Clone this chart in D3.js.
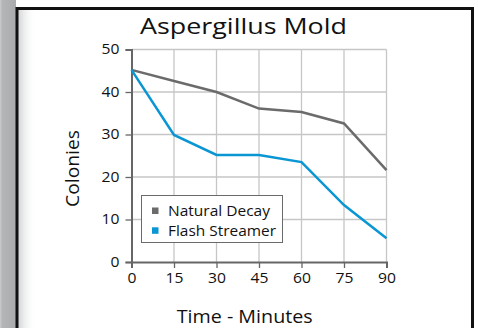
<!DOCTYPE html>
<html>
<head>
<meta charset="utf-8">
<script src="https://cdn.jsdelivr.net/npm/d3@7"></script>
<style>
  html, body { margin: 0; padding: 0; background: #fff; }
  svg { display: block; font-family: "Open Sans", "Noto Sans", sans-serif; }
</style>
</head>
<body>
<svg id="chart" width="478" height="328"></svg>
<script>
// Colony counts over time for two treatments
const minutes = [0, 15, 30, 45, 60, 75, 90];
const naturalDecay = [45.2, 42.6, 40.0, 36.1, 35.3, 32.6, 21.6];
const flashStreamer = [45.2, 29.9, 25.2, 25.2, 23.5, 13.4, 5.6];
const seriesNames = ["Natural Decay", "Flash Streamer"];
const yTicks = [0, 10, 20, 30, 40, 50];
const xTicks = [0, 15, 30, 45, 60, 75, 90];

const colors = ["#6b6b6b", "#0a96d2"];
const svg = d3.select("#chart");

// Widen glyphs horizontally by factor k (the typeface is set a little wide)
function widen(sel, k) {
  sel.each(function () {
    const len = this.getComputedTextLength();
    d3.select(this).attr("textLength", len * k).attr("lengthAdjust", "spacingAndGlyphs");
  });
}

// Frame: grey side strip, shadow and black border
const defs = svg.append("defs");
const shade = defs.append("linearGradient").attr("id", "shade");
shade.append("stop").attr("offset", "0%").attr("stop-color", "#d2d4d6");
shade.append("stop").attr("offset", "100%").attr("stop-color", "#ffffff").attr("stop-opacity", 0);
const strip = defs.append("linearGradient").attr("id", "strip");
strip.append("stop").attr("offset", "0%").attr("stop-color", "#c9cbcd");
strip.append("stop").attr("offset", "15%").attr("stop-color", "#b3b5b7");
strip.append("stop").attr("offset", "100%").attr("stop-color", "#a9abad");

svg.append("rect").attr("x", 0).attr("y", 0).attr("width", 16).attr("height", 328).attr("fill", "url(#strip)");
svg.append("rect").attr("x", 18).attr("y", 10).attr("width", 18).attr("height", 318).attr("fill", "url(#shade)");
svg.append("path")
  .attr("d", "M17,328 V8.5 H472.5 V328")
  .attr("fill", "none").attr("stroke", "#111").attr("stroke-width", 3);

// Plot area
const x = d3.scaleLinear().domain([0, 90]).range([131.5, 386.5]);
const y = d3.scaleLinear().domain([0, 50]).range([262, 49.5]);

const g = svg.append("g");

// Grid lines
g.append("g").selectAll("line").data(xTicks.slice(1)).join("line")
  .attr("x1", d => x(d)).attr("x2", d => x(d))
  .attr("y1", y(0)).attr("y2", y(50))
  .attr("stroke", "#c6c6c6").attr("stroke-width", 1.3);
g.append("g").selectAll("line").data(yTicks.slice(1)).join("line")
  .attr("x1", x(0)).attr("x2", x(90))
  .attr("y1", d => y(d)).attr("y2", d => y(d))
  .attr("stroke", "#c6c6c6").attr("stroke-width", 1.3);

// Axes
const xAxis = g.append("g").attr("transform", `translate(0,${y(0)})`)
  .call(d3.axisBottom(x).tickValues(xTicks).tickSize(6).tickPadding(5));
const yAxis = g.append("g").attr("transform", `translate(${x(0)},0)`)
  .call(d3.axisLeft(y).tickValues(yTicks).tickSize(6).tickPadding(6));
[xAxis, yAxis].forEach(a => {
  a.select(".domain").attr("stroke", "#666").attr("stroke-width", 2);
  a.selectAll(".tick line").attr("stroke", "#666").attr("stroke-width", 1.3);
  a.selectAll(".tick text").attr("fill", "#111").attr("font-size", 14)
    .attr("font-family", "'Open Sans', sans-serif");
  widen(a.selectAll(".tick text"), 1.12);
});

// Lines
const line = d3.line().x((d, i) => x(minutes[i])).y(d => y(d));
[naturalDecay, flashStreamer].forEach((vals, k) => {
  g.append("path").datum(vals)
    .attr("d", line)
    .attr("fill", "none")
    .attr("stroke", colors[k])
    .attr("stroke-width", 2.5)
    .attr("stroke-linejoin", "miter");
});

// Title and axis labels
const title = svg.append("text").attr("x", 243.5).attr("y", 34).attr("text-anchor", "middle")
  .attr("font-size", 22).attr("fill", "#111").text("Aspergillus Mold");
title.attr("textLength", 207).attr("lengthAdjust", "spacingAndGlyphs");
svg.append("text").attr("x", 244.7).attr("y", 323).attr("text-anchor", "middle")
  .attr("font-size", 19).attr("fill", "#111").text("Time - Minutes")
  .attr("textLength", 136).attr("lengthAdjust", "spacingAndGlyphs");
svg.append("text").attr("transform", "translate(79,168.5) rotate(-90)")
  .attr("text-anchor", "middle").attr("font-size", 19).attr("fill", "#111").text("Colonies")
  .attr("textLength", 77).attr("lengthAdjust", "spacingAndGlyphs");

// Legend
const lg = svg.append("g");
lg.append("rect").attr("x", 141.5).attr("y", 195.5).attr("width", 141).attr("height", 47)
  .attr("fill", "#fff").attr("stroke", "#6a6a6a").attr("stroke-width", 1);
const legendWidths = [102, 108];
seriesNames.forEach((name, i) => {
  const cy = 211 + i * 19.8;
  lg.append("rect").attr("x", 152).attr("y", cy - 3.5).attr("width", 6.5).attr("height", 6.5)
    .attr("fill", colors[i]);
  lg.append("text").attr("x", 168).attr("y", cy + 5).attr("font-size", 14)
    .attr("fill", "#111").text(name)
    .attr("textLength", legendWidths[i]).attr("lengthAdjust", "spacingAndGlyphs");
});
</script>
</body>
</html>
